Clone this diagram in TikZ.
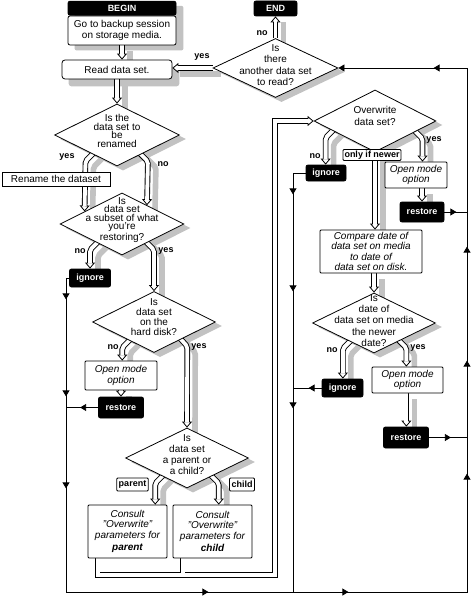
\documentclass[tikz,border=0pt]{standalone}
\usepackage{fontspec}
\setmainfont{Liberation Sans}
\usetikzlibrary{shapes.geometric,arrows.meta,positioning,calc,decorations.markings}
\definecolor{shadowgray}{gray}{0.76}
\pgfdeclarelayer{back}
\pgfsetlayers{back,main}
\tikzstyle{flowbox}=[draw, fill=white, line width=0.8pt, rounded corners=2pt, align=center, inner sep=1pt, font=\fontsize{10}{11}\selectfont]
\tikzstyle{opt}=[flowbox, rounded corners=1pt, font=\itshape\fontsize{10}{10.5}\selectfont]
\tikzstyle{blk}=[flowbox, fill=black, text=white, font=\bfseries\fontsize{9}{10}\selectfont]
\tikzstyle{dia}=[diamond, draw, fill=white, line width=0.8pt, inner sep=0pt]
\tikzstyle{tag}=[inner sep=1pt, font=\bfseries\fontsize{9}{10}\selectfont]
\tikzstyle{tagbox}=[tag, draw, fill=white, line width=0.8pt, rounded corners=1pt, inner xsep=2pt, minimum height=13pt]
\tikzstyle{flow}=[draw, line width=0.8pt]
\tikzset{
  dtext/.style={align=center, inner sep=0pt, font=\fontsize{10}{#1}\selectfont},
  fmark/.style={postaction={decorate, decoration={markings,
      mark=at position #1 with {\arrow{Triangle[width=7pt,length=6pt]}}}}},
  bpipe/.style={draw, line width=5.6pt,
    -{Triangle[width=10pt,length=6pt,line width=0.8pt,fill=white]},
    postaction={draw=white, line width=3.8pt, -, shorten >=5pt}},
  dpipe/.style={bpipe,
    preaction={draw=shadowgray, line width=5.6pt, -, transform canvas={shift={(8pt,-6pt)}}}}
}
\begin{document}
\begin{tikzpicture}[x=1pt, y=-1pt]
\useasboundingbox (0,0) rectangle (471,596);

% begin, end, read
\node[flowbox, minimum width=108pt, minimum height=29pt] (begin) at (122,30.5) {Go to backup session\\on storage media.};
\node[blk, minimum width=108pt, minimum height=14pt, above=0pt of begin] (beginhd) {BEGIN};
\node[blk, minimum width=43pt, minimum height=15pt] (endb) at (275.5,8.5) {END};
\node[flowbox, rounded corners=3pt, minimum width=110pt, minimum height=19pt] (read) at (117,69.5) {Read data set.};

% decisions
\node[dia, minimum width=125pt, minimum height=59pt] (ano) at (275.5,68) {};
\node[dtext=11.3] (anoT) at (275.5,65) {Is\\there\\another data set\\to read?};
\node[dia, minimum width=125pt, minimum height=62pt] (ren) at (117,135) {};
\node[dtext=8.7] (renT) at (117,131) {Is the\\data set to\\be\\renamed};
\node[dia, minimum width=124pt, minimum height=62pt] (sub) at (122,224) {};
\node[dtext=8.5] (subT) at (122,220) {Is\\data set\\a subset of what\\you're\\restoring?};
\node[dia, minimum width=123pt, minimum height=61pt] (hard) at (154,322) {};
\node[dtext=10] (hardT) at (154,317) {Is\\data set\\on the\\hard disk?};
\node[dia, minimum width=123pt, minimum height=60pt] (pc) at (187,458) {};
\node[dtext=11] (pcT) at (187,454.5) {Is\\data set\\a parent or\\a child?};
\node[dia, minimum width=122pt, minimum height=62pt] (ovr) at (375,121) {};
\node[dtext=12.5] (ovrT) at (375,116) {Overwrite\\data set?};
\node[dia, minimum width=123pt, minimum height=60pt] (date) at (374,323) {};
\node[dtext=11.3] (dateT) at (374,320.5) {Is\\date of\\data set on media\\the newer\\date?};

% left branch
\node[flowbox, sharp corners, minimum width=108pt, minimum height=14pt] (rename) at (56,179) {Rename the dataset};
\node[blk, minimum width=41pt, minimum height=18pt] (ign1) at (90,278) {ignore};
\node[opt, minimum width=72pt, minimum height=29pt] (open1) at (121,375.5) {Open mode\\option};
\node[blk, minimum width=45pt, minimum height=21pt] (rst1) at (121,407.5) {restore};
\node[opt, minimum width=79pt, minimum height=53pt] (conp) at (127.5,531.5) {Consult\\"Overwrite"\\parameters for\\[2pt]\textbf{parent}};
\node[opt, minimum width=79pt, minimum height=53pt] (conc) at (212.5,531.5) {Consult\\"Overwrite"\\parameters for\\[2pt]\textbf{child}};

% right branch
\node[blk, minimum width=40pt, minimum height=16pt] (ign2) at (326,173) {ignore};
\node[opt, minimum width=62pt, minimum height=26pt] (open2) at (416,175) {Open mode\\option};
\node[blk, minimum width=44pt, minimum height=20pt] (rst2) at (422,212) {restore};
\node[opt, minimum width=102pt, minimum height=43pt] (cmp) at (371,251.5) {Compare date of\\data set on media\\to date of\\data set on disk.};
\node[blk, minimum width=41pt, minimum height=18pt] (ign3) at (342.5,388) {ignore};
\node[opt, minimum width=71pt, minimum height=26pt] (open3) at (407.5,380) {Open mode\\option};
\node[blk, minimum width=45pt, minimum height=21pt] (rst3) at (406,437.5) {restore};

% answers
\node[tag] (lno0) at (262,33) {no};
\node[tag] (lyes0) at (202,57) {yes};
\node[tag] (lyes1) at (67,157) {yes};
\node[tag] (lno1) at (163,164) {no};
\node[tag] (lno2) at (80,251) {no};
\node[tag] (lyes2) at (166,251) {yes};
\node[tag] (lno3) at (113,347) {no};
\node[tag] (lyes3) at (199,347) {yes};
\node[tagbox] (lpar) at (132.5,484.5) {parent};
\node[tagbox] (lchild) at (242,484.5) {child};
\node[tag] (lno4) at (315,156) {no};
\node[tag] (lyes4) at (434,140) {yes};
\node[tagbox, minimum height=11pt, inner xsep=1.5pt] (lonly) at (372,155) {only if newer};
\node[tag] (lno5) at (332,350) {no};
\node[tag] (lyes5) at (418,348) {yes};

\coordinate (bl) at (66,592);
\coordinate (br) at (467,592);
\coordinate (tr) at (467,68);
\coordinate (bm) at (293,592);
\coordinate (lp) at (275,575);

\begin{pgfonlayer}{back}
% shadows
\foreach \dd in {ano,ren,sub,hard,pc,ovr,date}
  \fill[fill=shadowgray] ($(\dd.north)+(6,4)$) -- ($(\dd.east)+(6,4)$) -- ($(\dd.south)+(6,4)$) -- ($(\dd.west)+(6,4)$) -- cycle;
\fill[fill=shadowgray, rounded corners=2pt] ($(beginhd.north west)+(7,5)$) rectangle ($(begin.south east)+(7,5)$);
\fill[fill=shadowgray, rounded corners=3pt] ($(read.north west)+(7,7)$) rectangle ($(read.south east)+(7,7)$);

% pipes
\draw[dpipe] (begin.south) -- (begin.south |- read.north);
\draw[dpipe] (read.south) -- (ren.north);
\draw[dpipe] (ano.west) -- (ano.west -| read.east);
\draw[dpipe] (ano.north) -- (ano.north |- endb.south);
\draw[dpipe, rounded corners=2pt] ($(ren.west)!.61!(ren.south)+(3,-3)$) -- ++(-10,10) -- ($(sub.west)!.4!(sub.north)$);
\draw[dpipe, rounded corners=2pt] ($(ren.east)!.62!(ren.south)+(-3,-3)$) -- ++(10,10) -- ($(sub.east)!.6!(sub.north)$);
\draw[dpipe, rounded corners=2pt] ($(sub.west)!.6!(sub.south)+(3,-3)$) -- ++(-10,10) coordinate (k1) -- (k1 |- ign1.north);
\draw[dpipe, rounded corners=2pt] ($(sub.east)!.6!(sub.south)+(-3,-3)$) -- ++(10,10) -- (hard.north);
\draw[dpipe, rounded corners=2pt] ($(hard.west)!.6!(hard.south)+(3,-3)$) -- ++(-10,10) coordinate (k2) -- (k2 |- open1.north);
\draw[dpipe] (open1.south) -- (rst1.north);
\draw[dpipe, rounded corners=2pt] ($(hard.east)!.56!(hard.south)+(-3,-3)$) -- ++(9,10) -- (pc.north);
\draw[dpipe, rounded corners=2pt] ($(pc.west)!.6!(pc.south)+(3,-3)$) -- ++(-10,10) coordinate (k3) -- (k3 |- conp.north);
\draw[dpipe, rounded corners=2pt] ($(pc.east)!.6!(pc.south)+(-3,-3)$) -- ++(10,10) coordinate (k4) -- (k4 |- conc.north);
\draw[bpipe] ($(conc.south west)+(10,0)$) -- ++(0,17) ($(conp.south west)+(10,0)$) |- (lp) |- (ovr.west);
\draw[dpipe, rounded corners=2pt] ($(ovr.west)!.31!(ovr.south)+(3,-3)$) -- ++(-10,10) coordinate (k5) -- (k5 |- ign2.north);
\draw[dpipe] (ovr.south) -- (ovr.south |- cmp.north);
\draw[dpipe, rounded corners=2pt] ($(ovr.east)!.34!(ovr.south)+(-3,-3)$) -- ++(10,10) coordinate (k6) -- (k6 |- open2.north);
\draw[dpipe] (open2.south -| rst2.north) -- (rst2.north);
\draw[dpipe] (date.north |- cmp.south) -- (date.north);
\draw[dpipe, rounded corners=2pt] ($(date.west)!.61!(date.south)+(3,-3)$) -- ++(-10,10) coordinate (k7) -- (k7 |- ign3.north);
\draw[dpipe, rounded corners=2pt] ($(date.east)!.59!(date.south)+(-3,-3)$) -- ++(10,10) coordinate (k8) -- (k8 |- open3.north);
\draw[dpipe] (k8 |- open3.south) -- (k8 |- rst3.north);

% return lines
\draw[flow, -{Triangle[width=7pt,length=6pt]}, fmark=24.5pt, fmark=121.5pt, fmark=213.5pt, fmark=459.5pt, fmark=599.5pt, fmark=836.5pt, fmark=949.5pt, fmark=1063.5pt, fmark=1275.5pt] (ign1.west) -| (bl) -- (br) -- (tr) -- (ano.east);
\draw[flow, fmark=34pt, fmark=131pt, fmark=248pt] (ign2.west) -| (bm);
\draw[flow, fmark=18pt] (rst1.west) -- (rst1.west -| bl);
\draw[flow, fmark=13pt] (ign3.west) -- (ign3.west -| bm);
\draw[flow, fmark=12pt] (rst2.east) -- (rst2.east -| br);
\draw[flow, fmark=22pt] (rst3.east) -- (rst3.east -| br);
\end{pgfonlayer}
\end{tikzpicture}
\end{document}
